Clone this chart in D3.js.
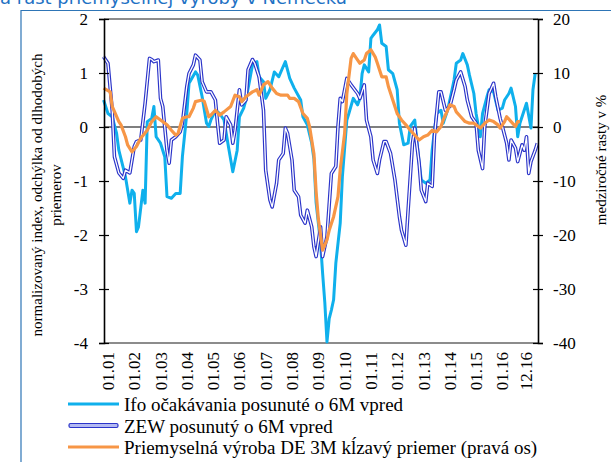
<!DOCTYPE html>
<html>
<head>
<meta charset="utf-8">
<script src="https://cdn.jsdelivr.net/npm/d3@7"></script>
<style>
  body { margin: 0; background: #fff; }
  text { font-family: "Liberation Serif", "Times New Roman", serif; fill: #000; }
</style>
</head>
<body>
<div id="chart"></div>
<script>
// Ifo ocakavania posunute o 6M vpred (left axis)
var ifo = [
  ["2000-11", 0.50], ["2001-01", 0.25], ["2001-03", 0.19], ["2001-05", -0.12], ["2001-06", -0.43],
  ["2001-09", -0.92], ["2001-11", -1.41], ["2001-12", -1.17], ["2002-01", -1.23], ["2002-02", -1.94],
  ["2002-03", -1.85], ["2002-05", -1.17], ["2002-06", -1.41], ["2002-07", 0.10], ["2002-09", 0.16],
  ["2002-10", 0.38], ["2002-11", -0.18], ["2003-01", -0.30], ["2003-03", -0.55], ["2003-04", -1.29],
  ["2003-06", -1.32], ["2003-08", -1.23], ["2003-10", -1.23], ["2003-11", -0.55], ["2004-01", 0.25],
  ["2004-02", 0.81], ["2004-05", 1.02], ["2004-06", 0.96], ["2004-08", 0.56], ["2004-10", 0.07],
  ["2004-11", 0.01], ["2004-12", 0.13], ["2005-02", 0.31], ["2005-04", 0.25], ["2005-06", 0.13],
  ["2005-08", -0.36], ["2005-10", -0.83], ["2005-12", -0.43], ["2006-01", 0.19], ["2006-03", 0.35],
  ["2006-04", 0.50], ["2006-06", 0.93], ["2006-07", 1.15], ["2006-09", 1.21], ["2006-10", 0.93],
  ["2006-12", 0.84], ["2007-01", 0.53], ["2007-03", 0.69], ["2007-05", 1.02], ["2007-07", 0.93],
  ["2007-09", 1.12], ["2007-10", 1.21], ["2007-12", 0.90], ["2008-02", 0.72], ["2008-05", 0.50],
  ["2008-06", 0.19], ["2008-08", 0.04], ["2008-10", -0.30], ["2008-11", -0.60], ["2008-12", -1.40],
  ["2009-02", -2.15], ["2009-03", -2.70], ["2009-04", -3.25], ["2009-05", -3.98], ["2009-06", -3.55],
  ["2009-07", -3.39], ["2009-08", -3.20], ["2009-09", -2.52], ["2009-11", -1.78], ["2009-12", -0.92],
  ["2010-02", 0.13], ["2010-03", 0.25], ["2010-05", 0.53], ["2010-07", 0.41], ["2010-08", 0.53],
  ["2010-09", 0.99], ["2010-10", 1.15], ["2010-12", 1.02], ["2011-01", 1.64], ["2011-02", 1.70],
  ["2011-04", 1.80], ["2011-05", 1.89], ["2011-06", 1.55], ["2011-08", 1.49], ["2011-09", 1.06],
  ["2011-11", 0.99], ["2012-01", 0.69], ["2012-02", 0.07], ["2012-04", -0.33], ["2012-06", -0.30],
  ["2012-07", 0.01], ["2012-09", 0.13], ["2012-11", -0.67], ["2012-12", -0.98], ["2013-02", -1.04],
  ["2013-04", -0.98], ["2013-05", -0.43], ["2013-07", 0.25], ["2013-09", 0.31], ["2013-10", 0.07],
  ["2013-12", 0.31], ["2014-02", 0.69], ["2014-03", 0.87], ["2014-04", 1.18], ["2014-06", 1.24],
  ["2014-07", 1.36], ["2014-09", 1.15], ["2014-10", 0.96], ["2014-12", 0.62], ["2015-01", 0.25],
  ["2015-03", -0.18], ["2015-04", 0.25], ["2015-06", 0.56], ["2015-07", 0.69], ["2015-09", 0.65],
  ["2015-11", 0.31], ["2016-01", 0.35], ["2016-02", 0.50], ["2016-04", 0.62], ["2016-05", 0.72],
  ["2016-07", 0.38], ["2016-08", -0.18], ["2016-09", 0.07], ["2016-12", 0.44], ["2017-02", -0.02],
  ["2017-03", 0.69], ["2017-04", 0.99]
];

// ZEW posunuty o 6M vpred (left axis)
var zew = [
  ["2000-11", 1.30], ["2001-01", 1.18], ["2001-03", 0.31], ["2001-04", -0.55], ["2001-06", -0.85],
  ["2001-08", -0.95], ["2001-09", -0.80], ["2001-11", -0.85], ["2002-01", -0.36], ["2002-02", -0.27],
  ["2002-04", -0.24], ["2002-06", 0.44], ["2002-08", 1.27], ["2002-09", 1.25], ["2002-10", 1.21],
  ["2002-12", 1.24], ["2003-01", 0.53], ["2003-02", 0.38], ["2003-04", -0.43], ["2003-05", -0.67],
  ["2003-06", -0.24], ["2003-08", -0.18], ["2003-10", -0.09], ["2003-11", 0.07], ["2004-01", 0.75],
  ["2004-02", 0.99], ["2004-04", 1.15], ["2004-05", 1.33], ["2004-07", 1.24], ["2004-08", 0.84],
  ["2004-10", 0.65], ["2004-12", 0.65], ["2005-02", 0.50], ["2005-03", 0.10], ["2005-04", -0.30],
  ["2005-06", -0.24], ["2005-07", 0.19], ["2005-09", 0.04], ["2005-10", -0.30], ["2005-11", -0.06],
  ["2006-01", 0.69], ["2006-02", 0.41], ["2006-04", 0.50], ["2006-05", 1.06], ["2006-07", 1.25],
  ["2006-08", 1.18], ["2006-10", 0.93], ["2006-12", 0.31], ["2007-01", -0.80], ["2007-03", -1.35],
  ["2007-04", -1.48], ["2007-06", -1.04], ["2007-07", -0.61], ["2007-09", -0.49], ["2007-10", -0.02],
  ["2007-11", -0.12], ["2008-01", -0.61], ["2008-02", -1.17], ["2008-04", -1.29], ["2008-05", -1.63],
  ["2008-07", -1.78], ["2008-08", -1.54], ["2008-10", -1.85], ["2008-11", -2.22], ["2008-12", -2.40],
  ["2009-02", -1.85], ["2009-03", -2.40], ["2009-05", -2.03], ["2009-07", -0.86], ["2009-09", -0.73],
  ["2009-10", 0.01], ["2009-11", 0.53], ["2009-12", 0.47], ["2010-02", 0.90], ["2010-04", 0.78],
  ["2010-07", 0.62], ["2010-08", 0.53], ["2010-10", 0.78], ["2010-11", 0.13], ["2011-01", -0.18],
  ["2011-02", -0.61], ["2011-04", -0.86], ["2011-05", -0.61], ["2011-07", -0.27], ["2011-08", -0.27],
  ["2011-10", -0.49], ["2011-12", -0.98], ["2012-02", -1.66], ["2012-03", -1.91], ["2012-05", -2.19],
  ["2012-06", -1.54], ["2012-08", -0.30], ["2012-09", -0.02], ["2012-11", -0.67], ["2012-12", -1.17],
  ["2013-02", -1.38], ["2013-03", -1.04], ["2013-05", -1.10], ["2013-06", -0.18], ["2013-08", 0.65],
  ["2013-09", 0.65], ["2013-11", 0.31], ["2014-01", 0.38], ["2014-03", 0.69], ["2014-04", 0.87],
  ["2014-06", 1.02], ["2014-08", 0.75], ["2014-09", 0.50], ["2014-11", 0.19], ["2015-01", 0.07],
  ["2015-02", -0.43], ["2015-04", -0.77], ["2015-05", 0.01], ["2015-07", 0.62], ["2015-09", 0.81],
  ["2015-10", 0.56], ["2015-12", 0.16], ["2016-01", 0.01], ["2016-03", -0.30], ["2016-04", -0.61],
  ["2016-05", -0.24], ["2016-07", -0.39], ["2016-08", -0.64], ["2016-10", -0.33], ["2016-11", -0.43],
  ["2016-12", -0.18], ["2017-01", -0.86], ["2017-02", -0.64], ["2017-04", -0.43], ["2017-05", -0.30]
];

// Priemyselna vyroba DE, 3M klzavy priemer, % (right axis)
var vyroba = [
  ["2000-11", 7.2], ["2001-02", 6.5], ["2001-03", 3.8], ["2001-06", 1.0], ["2001-07", 0.4],
  ["2001-09", -1.8], ["2001-10", -3.3], ["2001-12", -4.6], ["2002-02", -3.6], ["2002-04", -2.1],
  ["2002-07", -0.6], ["2002-09", 1.0], ["2002-11", 1.9], ["2003-01", 1.3], ["2003-04", 0.4],
  ["2003-06", -0.6], ["2003-08", -1.5], ["2003-09", -1.2], ["2003-11", 1.6], ["2004-01", 1.9],
  ["2004-02", 1.9], ["2004-04", 3.5], ["2004-05", 4.7], ["2004-08", 5.0], ["2004-09", 4.7],
  ["2004-11", 1.9], ["2004-12", 2.2], ["2005-02", 3.1], ["2005-04", 2.2], ["2005-06", 2.8],
  ["2005-09", 3.8], ["2005-11", 5.9], ["2006-01", 5.6], ["2006-02", 4.7], ["2006-04", 5.6],
  ["2006-07", 6.5], ["2006-09", 6.9], ["2006-10", 5.9], ["2006-12", 7.8], ["2007-02", 8.4],
  ["2007-04", 7.2], ["2007-06", 6.2], ["2007-08", 5.9], ["2007-11", 5.9], ["2007-12", 5.3],
  ["2008-02", 5.3], ["2008-04", 4.7], ["2008-06", 2.5], ["2008-08", 1.6], ["2008-09", 0.1],
  ["2008-11", -5.0], ["2008-12", -12.0], ["2009-01", -17.0], ["2009-03", -22.8], ["2009-05", -20.9],
  ["2009-06", -19.1], ["2009-08", -16.6], ["2009-10", -12.9], ["2009-11", -7.9], ["2010-01", -1.2],
  ["2010-02", 6.2], ["2010-04", 12.7], ["2010-05", 13.6], ["2010-07", 12.4], ["2010-08", 11.8],
  ["2010-10", 12.4], ["2010-11", 13.6], ["2011-01", 14.3], ["2011-03", 13.0], ["2011-04", 11.8],
  ["2011-06", 9.3], ["2011-08", 9.3], ["2011-09", 7.5], ["2011-11", 5.0], ["2012-01", 2.5],
  ["2012-03", 1.3], ["2012-05", 0.4], ["2012-07", -0.6], ["2012-09", -1.5], ["2012-11", -2.4],
  ["2013-01", -1.8], ["2013-03", -1.5], ["2013-05", -0.6], ["2013-07", -0.9], ["2013-09", 0.1],
  ["2013-10", 1.3], ["2013-12", 3.1], ["2014-01", 4.1], ["2014-03", 3.8], ["2014-04", 2.8],
  ["2014-06", 1.9], ["2014-08", 1.0], ["2014-10", 0.7], ["2014-12", 0.7], ["2015-01", 0.4],
  ["2015-03", -0.2], ["2015-05", 0.7], ["2015-07", 1.3], ["2015-09", 1.0], ["2015-11", 0.4],
  ["2015-12", -0.2], ["2016-02", 1.0], ["2016-03", 1.9], ["2016-05", 1.0], ["2016-07", 0.1],
  ["2016-08", 1.0], ["2016-09", 1.0]
];

var xTickLabels = ["01.01", "01.02", "01.03", "01.04", "01.05", "01.06", "01.07", "01.08",
                   "01.09", "01.10", "01.11", "01.12", "01.13", "01.14", "01.15", "01.16", "12.16"];
var leftTicks = [-4, -3, -2, -1, 0, 1, 2];
var rightTicks = [-40, -30, -20, -10, 0, 10, 20];

var legendLabels = ["Ifo očakávania posunuté o 6M vpred",
                    "ZEW posunutý o 6M vpred",
                    "Priemyselná výroba DE 3M kĺzavý priemer (pravá os)"];

var width = 611, height = 462;
var plot = { left: 104, right: 538, top: 19, bottom: 343 };

var parseMonth = d3.timeParse("%Y-%m");
var parseTick = d3.timeParse("%m.%y");

var svg = d3.select("#chart").append("svg")
            .attr("width", width)
            .attr("height", height);

// frame + title (cut off at the top, as in the original crop)
svg.append("text")
   .text("a rast priemyselnej výroby v Nemecku")
   .attr("x", 0)
   .attr("y", 4)
   .style("font-family", "'DejaVu Sans', Verdana, sans-serif")
   .style("font-size", "18px")
   .style("fill", "#1f72c4");

svg.append("path")
   .attr("d", "M21," + height + "V10.5H" + width)
   .style("fill", "none")
   .style("stroke", "#2e75b6")
   .style("stroke-width", 1.2);

var x = d3.scaleTime()
          .domain([new Date(2000, 10, 7), new Date(2017, 4, 10)])
          .range([plot.left, plot.right]);
var yL = d3.scaleLinear().domain([-4, 2]).range([plot.bottom, plot.top]);
var yR = d3.scaleLinear().domain([-40, 20]).range([plot.bottom, plot.top]);

// top / bottom borders
svg.append("line")
   .attr("x1", plot.left).attr("x2", plot.right)
   .attr("y1", plot.top).attr("y2", plot.top)
   .style("stroke", "#8c8c8c").style("stroke-width", 2);
svg.append("line")
   .attr("x1", plot.left).attr("x2", plot.right)
   .attr("y1", plot.bottom).attr("y2", plot.bottom)
   .style("stroke", "#8c8c8c").style("stroke-width", 2);

// zero line
svg.append("line")
   .attr("x1", plot.left).attr("x2", plot.right)
   .attr("y1", yL(0)).attr("y2", yL(0))
   .style("stroke", "#000").style("stroke-width", 1.2);

var lineL = d3.line()
              .x(function(d) { return x(parseMonth(d[0])); })
              .y(function(d) { return yL(d[1]); });
var lineR = d3.line()
              .x(function(d) { return x(parseMonth(d[0])); })
              .y(function(d) { return yR(d[1]); });

svg.append("path")
   .attr("d", lineL(ifo))
   .style("fill", "none")
   .style("stroke", "#0fb0ec")
   .style("stroke-width", 3)
   .style("stroke-linejoin", "round");

svg.append("path")
   .attr("d", lineL(zew))
   .style("fill", "none")
   .style("stroke", "#2b34c9")
   .style("stroke-width", 3.6)
   .style("stroke-linejoin", "round");
svg.append("path")
   .attr("d", lineL(zew))
   .style("fill", "none")
   .style("stroke", "#fff")
   .style("stroke-width", 1.3)
   .style("stroke-linejoin", "round");

svg.append("path")
   .attr("d", lineR(vyroba))
   .style("fill", "none")
   .style("stroke", "#f79646")
   .style("stroke-width", 3.2)
   .style("stroke-linejoin", "round");

// axes, plain hyphen minus like the original
var fmt = function(d) { return String(d); };
var leftAxis = svg.append("g").attr("transform", "translate(" + plot.left + ",0)")
                  .call(d3.axisLeft(yL).tickValues(leftTicks).tickFormat(fmt).tickSize(5).tickPadding(11));
var rightAxis = svg.append("g").attr("transform", "translate(" + plot.right + ",0)")
                   .call(d3.axisRight(yR).tickValues(rightTicks).tickFormat(fmt).tickSize(5).tickPadding(10));

[leftAxis, rightAxis].forEach(function(g) {
  g.attr("font-family", "Liberation Serif").attr("font-size", 17);
  g.select(".domain").style("stroke", "#000").style("stroke-width", 1.6);
  g.selectAll(".tick line").style("stroke", "#000").style("stroke-width", 1.2);
  g.selectAll("text").style("font-family", "'Liberation Serif', serif").style("font-size", "17px");
});
leftAxis.selectAll(".tick line").attr("x1", 5);
rightAxis.selectAll(".tick line").attr("x1", -5);

// x labels (rotated)
svg.selectAll(".xlabel")
   .data(xTickLabels).enter()
   .append("text")
   .attr("class", "xlabel")
   .text(function(d) { return d; })
   .attr("transform", function(d) {
     return "translate(" + (x(parseTick(d)) + 6) + ",352) rotate(-90)";
   })
   .attr("text-anchor", "end")
   .style("font-size", "17px");

// axis titles
var lt = svg.append("text")
            .attr("transform", "translate(42,195) rotate(-90)")
            .attr("text-anchor", "middle")
            .style("font-size", "15px");
lt.append("tspan").attr("x", 0).attr("dy", 0).text("normalizovaný index, odchýlka od dlhodobých");
lt.append("tspan").attr("x", 0).attr("dy", 19).text("priemerov");

svg.append("text")
   .text("medziročné rasty v %")
   .attr("transform", "translate(606,160) rotate(-90)")
   .attr("text-anchor", "middle")
   .style("font-size", "15px");

// legend
var legendY = [404, 425.5, 447];
var legendColors = ["#0fb0ec", "#2b34c9", "#f79646"];

legendLabels.forEach(function(label, i) {
  var y = legendY[i];
  if (i == 1) {
    svg.append("rect")
       .attr("x", 69).attr("y", y - 2)
       .attr("width", 49).attr("height", 4)
       .attr("rx", 1.5)
       .style("fill", "#b3b9f2")
       .style("stroke", "#2b34c9")
       .style("stroke-width", 1.2);
  } else {
    svg.append("line")
       .attr("x1", 68).attr("x2", 119)
       .attr("y1", y).attr("y2", y)
       .style("stroke", legendColors[i])
       .style("stroke-width", 3.2);
  }
  svg.append("text")
     .text(label)
     .attr("x", 124)
     .attr("y", y + 7)
     .style("font-size", "19px");
});
</script>
</body>
</html>
